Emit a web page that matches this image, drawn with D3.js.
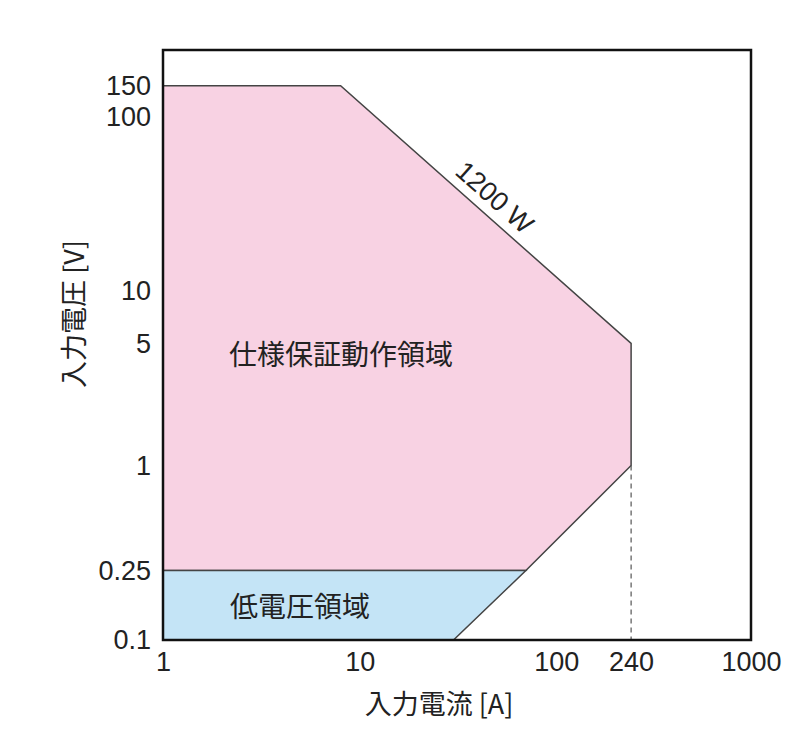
<!DOCTYPE html>
<head>
  <meta charset="utf-8">
  <script src="https://d3js.org/d3.v7.min.js"></script>
  <style>
    body { margin:0; background:#fff; }
    text { font-family: "Liberation Sans", Arial, sans-serif; fill:#222; }
    .jp { font-family: "Noto Sans CJK JP", "Noto Sans", sans-serif; }
  </style>
</head>
<body>
<script>
// tick labels
var xTicks = [1, 10, 100, 240, 1000];
var yTicks = [0.1, 0.25, 1, 5, 10, 100, 150];

// operating regions (current A, voltage V)
var ratedRegion = [[1, 0.25], [1, 150], [8, 150], [240, 5], [240, 1], [70, 0.25]];
var lowVoltRegion = [[1, 0.1], [1, 0.25], [70, 0.25], [30, 0.1]];
var limitDash = [[240, 1], [240, 0.1]];
var powerLabel = "1200 W";

var width = 800, height = 756;
var svg = d3.select("body").append("svg")
  .attr("width", width)
  .attr("height", height);

var x = d3.scaleLog().domain([1, 1000]).range([163, 753]);
var y = d3.scaleLog().domain([0.1, 240]).range([640, 50]);

var line = d3.line()
  .x(function(d) { return x(d[0]); })
  .y(function(d) { return y(d[1]); });

svg.append("path")
  .attr("d", line(ratedRegion) + "Z")
  .attr("fill", "#f8d2e3")
  .attr("stroke", "#444")
  .attr("stroke-width", 1.5);

svg.append("path")
  .attr("d", line(lowVoltRegion) + "Z")
  .attr("fill", "#c4e4f6")
  .attr("stroke", "#444")
  .attr("stroke-width", 1.5);

svg.append("path")
  .attr("d", line(limitDash))
  .attr("fill", "none")
  .attr("stroke", "#555")
  .attr("stroke-width", 1.2)
  .attr("stroke-dasharray", "5,4");

// frame
svg.append("rect")
  .attr("x", x(1)).attr("y", y(240))
  .attr("width", 751 - x(1))
  .attr("height", y(0.1) - y(240))
  .attr("fill", "none")
  .attr("stroke", "#111")
  .attr("stroke-width", 2.5);

// axes without tick lines
var xAxis = svg.append("g")
  .attr("transform", "translate(0," + y(0.1) + ")")
  .call(d3.axisBottom(x).tickValues(xTicks).tickFormat(d3.format("")).tickSize(0).tickPadding(12));
xAxis.select(".domain").remove();
xAxis.selectAll("text").style("font-size", "27px").attr("fill", "#222")
  .style("font-family", "Liberation Sans, Arial, sans-serif");
xAxis.selectAll(".tick").filter(function(d) { return d === 1000; })
  .select("text").attr("dx", -2);

var yAxis = svg.append("g")
  .attr("transform", "translate(" + (x(1) - 12) + ",0)")
  .call(d3.axisLeft(y).tickValues(yTicks).tickFormat(function(d) { return String(d); }).tickSize(0).tickPadding(0));
yAxis.select(".domain").remove();
yAxis.selectAll("text").style("font-size", "27px").attr("fill", "#222")
  .style("font-family", "Liberation Sans, Arial, sans-serif");

// 1200 W label along the power line
var p1 = [x(8), y(150)], p2 = [x(240), y(5)];
var ang = Math.atan2(p2[1] - p1[1], p2[0] - p1[0]) * 180 / Math.PI;
var mid = [x(42), y(1200 / 42)];
svg.append("text")
  .attr("transform", "translate(" + mid[0] + "," + mid[1] + ") rotate(" + ang + ")")
  .attr("text-anchor", "middle")
  .attr("dy", "-0.35em")
  .style("font-size", "27px")
  .text(powerLabel);

svg.append("text").attr("class", "jp")
  .attr("x", 341).attr("y", 353)
  .attr("text-anchor", "middle").attr("dominant-baseline", "central")
  .style("font-size", "28px")
  .text("仕様保証動作領域");

svg.append("text").attr("class", "jp")
  .attr("x", 300).attr("y", 605)
  .attr("text-anchor", "middle").attr("dominant-baseline", "central")
  .style("font-size", "28px")
  .text("低電圧領域");

svg.append("text").attr("class", "jp")
  .attr("x", 439).attr("y", 702)
  .attr("text-anchor", "middle").attr("dominant-baseline", "central")
  .style("font-size", "27px")
  .text("入力電流 [A]");

svg.append("text").attr("class", "jp")
  .attr("transform", "translate(72,314) rotate(-90)")
  .attr("text-anchor", "middle").attr("dominant-baseline", "central")
  .style("font-size", "27px")
  .text("入力電圧 [V]");
</script>
</body>
</html>
